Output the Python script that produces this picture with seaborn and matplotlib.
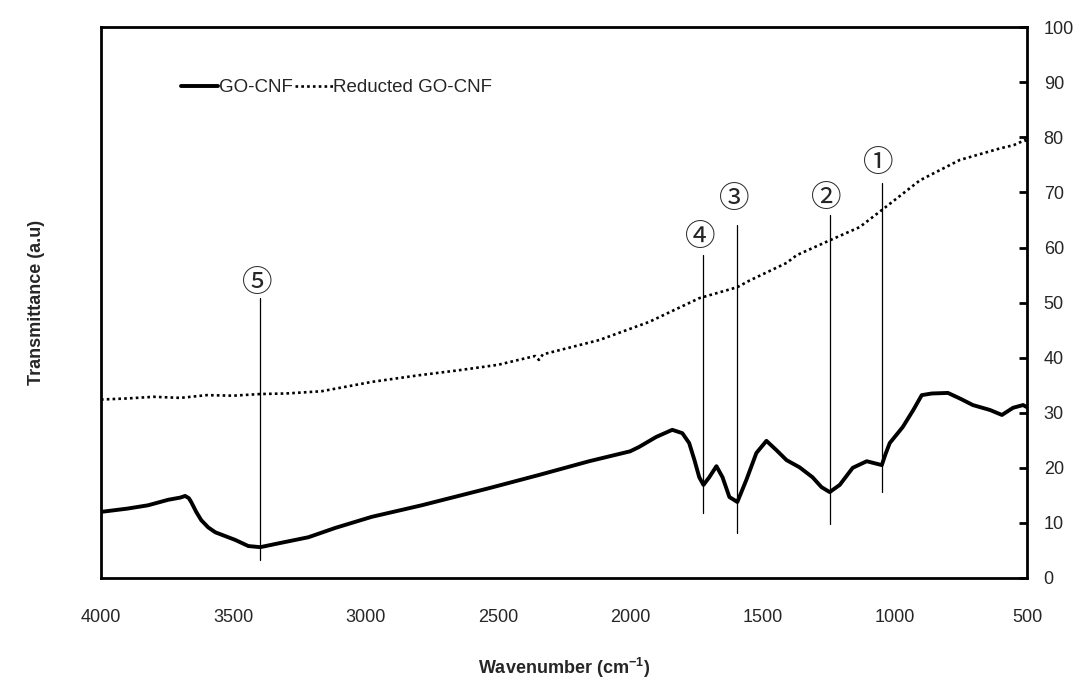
import numpy as np
import pandas as pd
import matplotlib
matplotlib.use("Agg")
import matplotlib.pyplot as plt
import seaborn as sns

# GO-CNF (solid)
go_wn = [4000, 3900, 3822, 3746, 3700, 3682, 3668, 3659, 3640, 3621, 3595, 3568, 3530,
         3492, 3443, 3398, 3318, 3216, 3114, 2977, 2788, 2534, 2345, 2155, 2000, 1966,
         1902, 1841, 1803, 1777, 1757, 1739, 1723, 1701, 1674, 1651, 1625, 1595, 1561,
         1523, 1485, 1447, 1409, 1360, 1311, 1277, 1246, 1208, 1159, 1106, 1049, 1035,
         1019, 970, 930, 898, 860, 799, 750, 705, 640, 595, 553, 515, 500]
go_tr = [12.0, 12.6, 13.2, 14.2, 14.6, 14.9, 14.5, 13.8, 12.0, 10.5, 9.2, 8.3, 7.6,
         6.9, 5.8, 5.6, 6.4, 7.4, 9.1, 11.1, 13.2, 16.3, 18.7, 21.2, 23.0, 23.8,
         25.6, 26.9, 26.3, 24.5, 21.4, 18.3, 16.9, 18.3, 20.3, 18.3, 14.7, 13.8, 17.8,
         22.7, 24.9, 23.2, 21.4, 20.1, 18.3, 16.5, 15.6, 16.9, 20.0, 21.2, 20.5, 22.5,
         24.5, 27.4, 30.5, 33.2, 33.5, 33.6, 32.5, 31.4, 30.5, 29.6, 30.9, 31.4, 31.0]

# Reducted GO-CNF (dotted)
rgo_wn = [4000, 3900, 3800, 3700, 3600, 3500, 3398, 3300, 3167, 2977, 2800, 2650,
          2500, 2360, 2345, 2330, 2117, 1928, 1739, 1595, 1549, 1409, 1371, 1246,
          1133, 1049, 905, 754, 602, 550, 508, 500]
rgo_tr = [32.4, 32.6, 32.9, 32.7, 33.2, 33.1, 33.4, 33.5, 33.9, 35.6, 36.8, 37.7,
          38.7, 40.3, 39.6, 40.6, 43.2, 46.5, 50.8, 52.8, 54.0, 57.2, 58.6, 61.3,
          63.7, 66.8, 72.2, 75.9, 78.0, 78.6, 79.5, 79.2]

# Annotation markers
mark_labels = ["①", "②", "③", "④", "⑤"]
mark_wn = [1049, 1246, 1595, 1723, 3398]
mark_bottom = [15.6, 9.8, 8.2, 11.8, 3.3]
mark_top = [71.7, 65.9, 64.1, 58.6, 50.8]
mark_label_y = [75.3, 68.9, 68.7, 61.8, 53.5]

x_ticks = [4000, 3500, 3000, 2500, 2000, 1500, 1000, 500]
y_ticks = [0, 10, 20, 30, 40, 50, 60, 70, 80, 90, 100]

sns.set_theme(style="white")
plt.rcParams["font.family"] = ["Liberation Sans", "DejaVu Sans"]
plt.rcParams["mathtext.default"] = "regular"

fig = plt.figure(figsize=(10.88, 6.8), dpi=100)
ax = fig.add_axes([0.0928, 0.15, 0.8512, 0.81])

df_go = pd.DataFrame({"wn": go_wn, "tr": go_tr})
df_rgo = pd.DataFrame({"wn": rgo_wn, "tr": rgo_tr})

sns.lineplot(data=df_go, x="wn", y="tr", ax=ax, color="black", linewidth=2.8,
             label="GO-CNF", sort=False, estimator=None)
sns.lineplot(data=df_rgo, x="wn", y="tr", ax=ax, color="black", linewidth=1.9,
             linestyle=(0, (1, 1.2)), label="Reducted GO-CNF", sort=False, estimator=None)

for lab, w, b, t, ly in zip(mark_labels, mark_wn, mark_bottom, mark_top, mark_label_y):
    ax.plot([w, w], [b, t], color="black", linewidth=0.9)
    ax.text(w + 12, ly, lab, ha="center", va="center", fontsize=22,
            family=["Noto Sans CJK JP", "DejaVu Sans"])

ax.set_xlim(4000, 500)
ax.set_ylim(0, 100)
ax.set_xticks(x_ticks)
ax.set_xticklabels([str(v) for v in x_ticks], fontsize=13)
ax.yaxis.tick_right()
ax.set_yticks(y_ticks)
ax.set_yticklabels([str(v) for v in y_ticks], fontsize=13)
ax.tick_params(axis="x", direction="in", length=6, width=2, pad=22, color="black")
ax.tick_params(axis="y", direction="in", length=6, width=2, pad=12, color="black")
ax.tick_params(axis="y", which="both", left=False, right=True)

for side, sp in ax.spines.items():
    sp.set_color("black")
    sp.set_linewidth(2.0)

ax.set_xlabel("Wavenumber (cm$^{-1}$)", fontsize=13, fontweight="bold", labelpad=22)
ax.set_ylabel("Transmittance (a.u)", fontsize=13, fontweight="bold", labelpad=40)
ax.yaxis.set_label_position("left")

leg = ax.legend(loc="center left", bbox_to_anchor=(0.068, 0.89), ncol=2, frameon=False,
                handlelength=2.0, handletextpad=0.05, columnspacing=0.1, fontsize=13.5)

fig.savefig("out.png", dpi=100)
